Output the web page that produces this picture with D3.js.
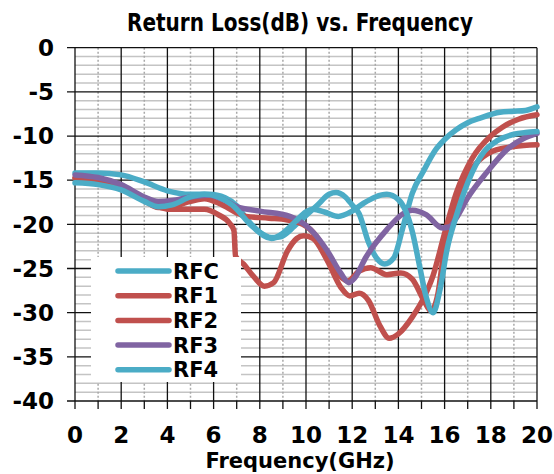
<!DOCTYPE html>
<html>
<head>
<meta charset="utf-8">
<script src="https://cdn.jsdelivr.net/npm/d3@7"></script>
<style>
  body { margin: 0; background: #fff; }
  svg { display: block; }
  text { font-family: "DejaVu Sans", Verdana, sans-serif; font-weight: bold; fill: #000; }
</style>
</head>
<body>
<div id="chart"></div>
<script>
// Return loss readings, [GHz, dB]
const rfc = [[0,-14.2],[1,-14.2],[2,-14.4],[3,-15.2],[4,-16.2],[5,-16.6],[5.8,-16.6],[6.5,-17.0],[7,-17.9],[7.5,-19.6],[8,-20.9],[8.5,-21.5],[8.9,-21.4],[9.5,-20.2],[10,-19.0],[10.5,-17.8],[11,-16.6],[11.3,-16.4],[11.7,-16.9],[12,-17.8],[12.3,-18.8],[12.7,-22.0],[13.05,-23.8],[13.4,-24.5],[13.8,-23.8],[14.2,-20.3],[14.6,-16.5],[15.1,-13.9],[15.6,-11.6],[16,-10.4],[16.5,-9.3],[17,-8.5],[17.5,-8.0],[18.4,-7.3],[19,-7.2],[19.5,-7.1],[20,-6.7]];
const rf1 = [[0,-14.8],[1,-15.1],[2,-15.8],[3,-17.3],[3.6,-18.1],[4.2,-18.0],[5,-17.4],[5.6,-17.1],[6.3,-17.7],[7,-18.7],[7.4,-19.1],[8.4,-19.3],[9.2,-19.5],[10,-20.2],[10.6,-21.9],[11.2,-25.0],[11.8,-26.4],[12.3,-25.3],[12.8,-24.9],[13.5,-25.7],[14.1,-25.5],[14.6,-26.2],[15.1,-28.6],[15.4,-29.8],[15.7,-28.0],[16,-22.5],[16.4,-18.2],[16.8,-15.3],[17.3,-13.3],[18.1,-11.7],[19,-11.2],[20,-11.0]];
const rf2 = [[0,-14.7],[1,-15.0],[2,-15.7],[3,-17.2],[3.6,-18.0],[4.1,-18.3],[5,-18.3],[5.6,-18.3],[6.2,-18.9],[6.7,-19.9],[6.88,-20.7],[6.95,-23.6],[7.3,-24.5],[7.7,-25.8],[8.2,-27.0],[8.6,-26.6],[9.2,-23.0],[9.6,-21.6],[9.9,-21.3],[10.3,-21.6],[10.9,-24.0],[11.5,-27.1],[11.9,-28.1],[12.3,-27.8],[12.7,-28.6],[13.2,-31.5],[13.6,-32.9],[14,-32.4],[14.6,-30.5],[15.1,-28.3],[15.5,-25.8],[16,-21.0],[16.5,-16.5],[17.2,-12.5],[18,-10.0],[18.5,-9.0],[19.2,-8.1],[20,-7.6]];
const rf3 = [[0,-14.4],[1,-14.7],[2,-15.5],[3,-16.9],[3.6,-17.4],[4.2,-17.3],[5,-16.9],[5.8,-16.7],[6.5,-17.3],[7,-18.0],[8,-18.5],[9.3,-19.1],[10.2,-20.6],[10.9,-22.9],[11.5,-25.5],[11.85,-26.6],[12.1,-26.1],[12.6,-23.7],[13.5,-20.6],[14.2,-18.8],[14.6,-18.4],[15.2,-18.9],[15.9,-20.4],[16.2,-20.3],[16.5,-19.3],[17,-17.0],[17.8,-14.2],[18.8,-11.3],[19.4,-10.3],[20,-9.7]];
const rf4 = [[0,-15.3],[1,-15.5],[2,-16.1],[3,-17.4],[3.6,-18.0],[4.2,-17.8],[5,-16.9],[5.6,-16.6],[6.2,-16.9],[6.8,-17.8],[7.7,-20.3],[8.5,-21.6],[9,-21.0],[9.5,-19.8],[10,-18.6],[10.3,-18.3],[10.8,-18.6],[11.4,-19.1],[12,-18.5],[12.5,-17.6],[13,-16.9],[13.5,-16.6],[14,-17.2],[14.3,-18.4],[14.6,-20.8],[14.9,-24.5],[15.2,-28.2],[15.5,-30.0],[15.8,-27.4],[16.1,-22.9],[16.5,-19.1],[17,-15.3],[17.7,-11.8],[18.3,-10.5],[19,-9.8],[19.5,-9.6],[20,-9.5]];

const seriesNames = ["RFC", "RF1", "RF2", "RF3", "RF4"];
const seriesData = [rfc, rf1, rf2, rf3, rf4];
const seriesColors = ["#4BACC6", "#C0504D", "#C0504D", "#8064A2", "#4BACC6"];
const xTicks = [0, 2, 4, 6, 8, 10, 12, 14, 16, 18, 20];
const yTicks = [0, -5, -10, -15, -20, -25, -30, -35, -40];

const width = 554, height = 474;
const plot = { left: 75, right: 537, top: 47.7, bottom: 401 };

const svg = d3.select("#chart").append("svg")
  .attr("width", width)
  .attr("height", height);

const x = d3.scaleLinear().domain([0, 20]).range([plot.left, plot.right]);
const y = d3.scaleLinear().domain([-40, 0]).range([plot.bottom, plot.top]);

// minor horizontal grid (every 1 dB)
svg.append("g").selectAll("line")
  .data(d3.range(-39, 0).filter(v => v % 5 !== 0))
  .join("line")
  .attr("x1", plot.left).attr("x2", plot.right)
  .attr("y1", d => y(d)).attr("y2", d => y(d))
  .attr("stroke", "#c4c4c4")
  .attr("stroke-width", 1.5);

// minor vertical grid (odd GHz, dotted)
svg.append("g").selectAll("line")
  .data(d3.range(1, 20, 2))
  .join("line")
  .attr("x1", d => x(d)).attr("x2", d => x(d))
  .attr("y1", plot.top).attr("y2", plot.bottom)
  .attr("stroke", "#a8a8a8")
  .attr("stroke-width", 1.5)
  .attr("stroke-dasharray", "2,2");

// major grid
svg.append("g").selectAll("line")
  .data(yTicks)
  .join("line")
  .attr("x1", plot.left - 8).attr("x2", plot.right)
  .attr("y1", d => y(d)).attr("y2", d => y(d))
  .attr("stroke", "#111")
  .attr("stroke-width", 1.3);

svg.append("g").selectAll("line")
  .data(xTicks)
  .join("line")
  .attr("x1", d => x(d)).attr("x2", d => x(d))
  .attr("y1", plot.top).attr("y2", plot.bottom)
  .attr("stroke", "#111")
  .attr("stroke-width", 1.3);

// x ticks every GHz, below the axis
svg.append("g").selectAll("line")
  .data(d3.range(0, 21))
  .join("line")
  .attr("x1", d => x(d)).attr("x2", d => x(d))
  .attr("y1", plot.bottom).attr("y2", plot.bottom + 8)
  .attr("stroke", "#111")
  .attr("stroke-width", 1.3);

// curves
const line = d3.line()
  .x(d => x(d[0]))
  .y(d => y(d[1]))
  .curve(d3.curveMonotoneX);

svg.append("g").selectAll("path")
  .data(seriesData)
  .join("path")
  .attr("d", d => line(d))
  .attr("fill", "none")
  .attr("stroke", (d, i) => seriesColors[i])
  .attr("stroke-width", 5.5)
  .attr("stroke-linejoin", "round")
  .attr("stroke-linecap", "round");

// tick labels
svg.append("g").selectAll("text")
  .data(yTicks)
  .join("text")
  .attr("x", 54)
  .attr("y", d => y(d))
  .attr("dy", "0.36em")
  .attr("text-anchor", "end")
  .style("font-size", "23px")
  .text(d => d);

svg.append("g").selectAll("text")
  .data(xTicks)
  .join("text")
  .attr("x", d => x(d))
  .attr("y", 443)
  .attr("text-anchor", "middle")
  .style("font-size", "23px")
  .text(d => d);

// titles
svg.append("text")
  .attr("x", 300)
  .attr("y", 31)
  .attr("text-anchor", "middle")
  .attr("textLength", 346)
  .attr("lengthAdjust", "spacingAndGlyphs")
  .style("font-size", "24px")
  .text("Return Loss(dB) vs. Frequency");

svg.append("text")
  .attr("x", 300)
  .attr("y", 468)
  .attr("text-anchor", "middle")
  .style("font-size", "21px")
  .text("Frequency(GHz)");

// legend
const legend = svg.append("g");
legend.append("rect")
  .attr("x", 91).attr("y", 257)
  .attr("width", 150).attr("height", 125)
  .attr("fill", "#fff");

const items = legend.selectAll("g")
  .data(seriesNames)
  .join("g")
  .attr("transform", (d, i) => "translate(0," + (271 + i * 24.7) + ")");

items.append("line")
  .attr("x1", 118).attr("x2", 169)
  .attr("stroke", (d, i) => seriesColors[i])
  .attr("stroke-width", 5.5)
  .attr("stroke-linecap", "round");

items.append("text")
  .attr("x", 173)
  .attr("dy", "0.36em")
  .style("font-size", "21px")
  .text(d => d);
</script>
</body>
</html>
